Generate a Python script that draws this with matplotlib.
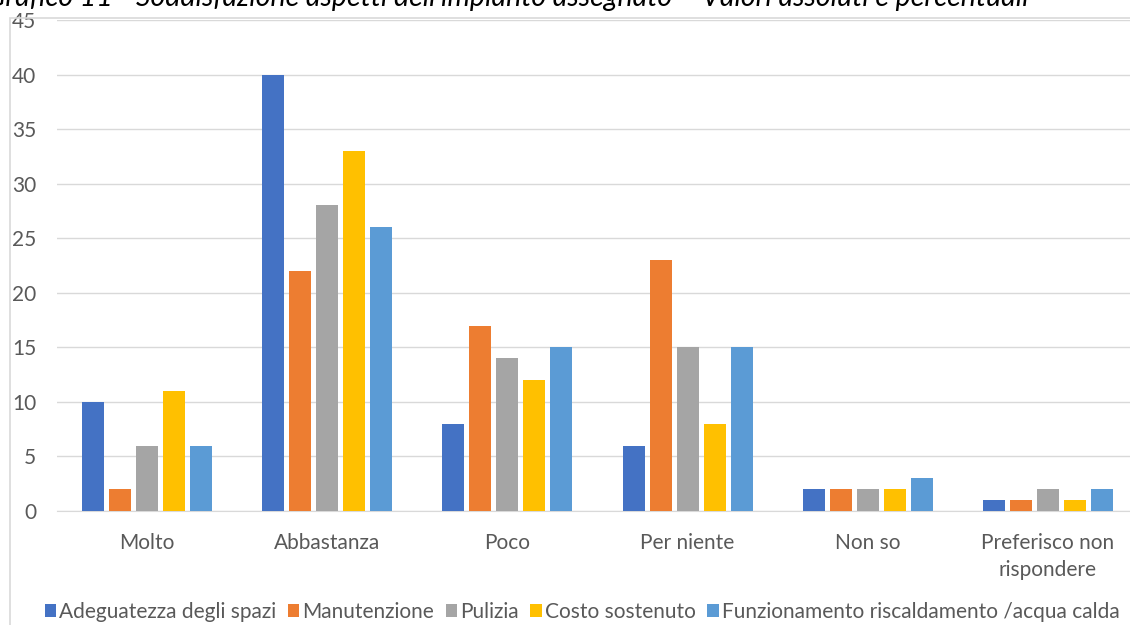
import numpy as np
import matplotlib.pyplot as plt
from matplotlib.patches import Rectangle

categories = ["Molto", "Abbastanza", "Poco", "Per niente", "Non so", "Preferisco non\nrispondere"]
series_names = ["Adeguatezza degli spazi", "Manutenzione", "Pulizia", "Costo sostenuto",
                "Funzionamento riscaldamento /acqua calda"]
adeguatezza = [10, 40, 8, 6, 2, 1]
manutenzione = [2, 22, 17, 23, 2, 1]
pulizia = [6, 28, 14, 15, 2, 2]
costo = [11, 33, 12, 8, 2, 1]
funzionamento = [6, 26, 15, 15, 3, 2]
colors = ["#4472C4", "#ED7D31", "#A5A5A5", "#FFC000", "#5B9BD5"]

plt.rcParams['font.family'] = ['Lato', 'DejaVu Sans']

fig = plt.figure(figsize=(11.3, 6.25), dpi=100)
# chart border
fig.patches.append(Rectangle((10 / 1130, -0.01), 1.1, (625 - 18) / 625 + 0.01,
                             transform=fig.transFigure, fill=False,
                             edgecolor="#D9D9D9", linewidth=1.2))
fig.text(-0.012, 0.982, "Grafico 11 - Soddisfazione aspetti dell'impianto assegnato \u2013 Valori assoluti e percentuali",
         fontsize=20.5, style="italic", color="black", va="bottom", ha="left")

ax = fig.add_axes([57 / 1130, 114 / 625, (1138 - 57) / 1130, (511 - 20) / 625])
x = np.arange(len(categories))
all_series = [adeguatezza, manutenzione, pulizia, costo, funzionamento]
w = 0.122
step = 0.15
for i, (vals, name) in enumerate(zip(all_series, series_names)):
    ax.bar(x + (i - 2) * step, vals, width=w, color=colors[i], label=name, zorder=3)

ax.set_xlim(-0.5, len(categories) - 0.5)
ax.set_ylim(0, 45)
ax.set_yticks(range(0, 46, 5))
ax.set_xticks(x)
ax.set_xticklabels(categories, linespacing=1.45)
ax.grid(axis="y", color="#D9D9D9", linewidth=1, zorder=0)
for s in ["top", "right", "left"]:
    ax.spines[s].set_visible(False)
ax.spines["bottom"].set_color("#D9D9D9")
ax.tick_params(axis="both", length=0, labelsize=15, colors="#595959")
ax.tick_params(axis="y", pad=15)
ax.tick_params(axis="x", pad=16)

fig.legend(loc="lower left", bbox_to_anchor=(26 / 1130, -0.025), ncol=5, frameon=False,
           fontsize=15, handlelength=0.55, handleheight=0.55, handletextpad=0.15,
           columnspacing=0.55, labelcolor="#595959")

fig.savefig("out.png", dpi=100)
